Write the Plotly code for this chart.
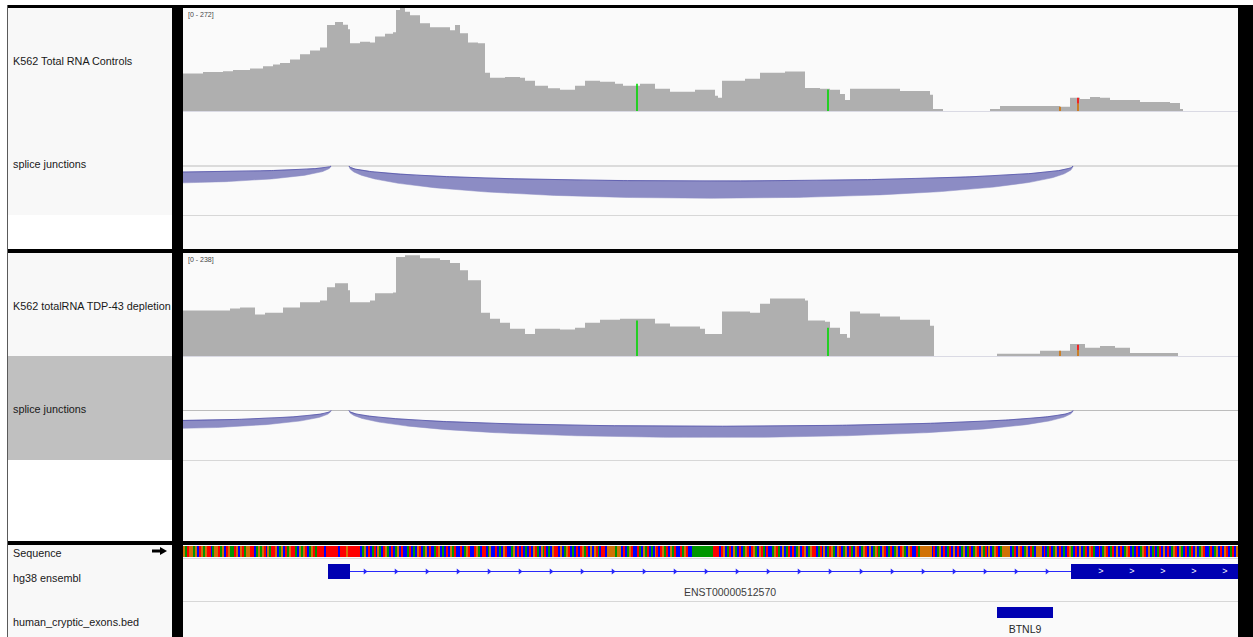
import numpy as np
import plotly.graph_objects as go

# ---------------- data ----------------
VIEW_START, VIEW_END = 0, 1055          # visible locus window (relative bp units)

# Coverage track 1 (K562 Total RNA Controls), data range [0 - 272]
cov1_pos = [0, 20, 40, 50, 67, 80, 90, 97, 107, 117, 127, 137, 144, 152, 160, 165, 167, 177, 187, 192,
            202, 210, 213, 217, 222, 227, 237, 247, 257, 267, 272, 277, 285, 295, 302, 307, 322,
            337, 342, 352, 365, 377, 392, 402, 417, 432, 440, 457, 472, 487, 512, 532, 535, 539,
            562, 577, 602, 622, 637, 647, 657, 662, 667, 697, 717, 747, 750, 760, 807, 817, 847,
            877, 887, 897, 907, 917, 927, 957, 987, 997, 1000]
cov1_val = [99, 103, 105, 108, 112, 118, 123, 127, 136, 150, 160, 168, 227, 235, 228, 216, 179, 183, 181, 197,
            204, 208, 267, 272, 262, 253, 232, 221, 221, 213, 227, 205, 181, 179, 101, 88, 90,
            88, 80, 67, 60, 56, 67, 80, 77, 72, 67, 72, 59, 51, 56, 40, 35, 80,
            85, 101, 104, 61, 59, 56, 45, 29, 59, 59, 53, 43, 5, 0, 5, 13, 13,
            11, 35, 32, 37, 35, 29, 24, 21, 5, 0]
cov1_max = 272

# Coverage track 2 (K562 totalRNA TDP-43 depletion), data range [0 - 238]
cov2_pos = [0, 47, 57, 72, 82, 100, 117, 137, 144, 152, 165, 167, 187, 192, 210, 213, 222, 237,
            257, 267, 277, 285, 295, 298, 307, 317, 327, 342, 352, 377, 392, 402, 417, 437, 457,
            472, 487, 517, 522, 539, 567, 577, 587, 607, 622, 625, 642, 647, 657, 664, 667, 677,
            697, 717, 747, 751, 814, 847, 857, 877, 887, 902, 917, 932, 947, 992, 995]
cov2_val = [105, 110, 112, 96, 100, 112, 124, 128, 159, 168, 152, 124, 128, 145, 147, 229, 233, 226,
            222, 215, 198, 175, 175, 100, 86, 77, 63, 51, 63, 61, 65, 77, 84, 86, 86,
            75, 68, 63, 51, 103, 100, 121, 133, 133, 128, 82, 79, 65, 51, 42, 103, 98,
            91, 84, 70, 0, 5, 5, 12, 12, 28, 19, 23, 19, 7, 7, 0]
cov2_max = 238

# Mismatch (SNP) columns: allele counts per position
snp_pos = [454, 645, 877, 895]
snp1_A = [72, 57, 0, 0]
snp1_G = [0, 0, 11, 20]
snp1_T = [0, 0, 0, 15]
snp2_A = [82, 65, 0, 0]
snp2_G = [0, 0, 12, 14]
snp2_T = [0, 0, 0, 12]

# Splice junctions (start, end, arc outer depth, arc inner depth)
junc_start = [-252, 166]
junc_end = [148, 890]
junc1_outer = [23.4, 43]
junc1_inner = [8.3, 20]
junc2_outer = [24.8, 36]
junc2_inner = [13.8, 21]

# Reference sequence (as displayed, compressed)
sequence = ("GATGGAGCTGAGTTCAGGTAGCTGAATGCGTAGGTTCAGAGTCGATTGCAGCTAGTTACGAG"
            "TCAGTATTTTCTTTTTTCTTTGTTTTTTCAGCTCATCGACTGACTCAGCTCCATCACGTCAG"
            "CTCCATGCACTCGATCCTCAGTCCTGACTTCAGCCTCACGTCCAGCTCTCACTCGTACGATC"
            "ACGTTCGCAGTCACTCTGATCGCGTACTTCGGGGAGGCTCAGTCCTACGATCACGTCTGATC"
            "GATCCTAGTCCAAAAAAAAAAATTTCTGCATCGACTCAGTCTGACGTACTCCAGTACGCATC"
            "TCAGCTGCAGTTCATCGCATGACGTCAGCTACGTCAGTCGCAGTACGTCATCAGCTGACGTC"
            "CTAGGGGGGCTCAGCTCATCGCTCAGCATCAGTCGATCGCAGTCAGGGGCATCGTCAGCTAC"
            "GGGCTCATCAGCTCACTGACTCGCATCGTACCTCAGTCATCGCTCAGTCACTCAGTCGCATC"
            "ATCGCTCAGTCGACTCATCGCAGTCCATCAGCTCGTCATCG")

# Gene model (hg38 ensembl)
exon_start = [145, 888]
exon_end = [167, 1100]
transcript_name = "ENST00000512570"
transcript_label_pos = 547

# Cryptic exon BED
bed_start = [814]
bed_end = [870]
bed_name = ["BTNL9"]

# Track names
track_names = ["K562 Total RNA Controls", "splice junctions",
               "K562 totalRNA TDP-43 depletion", "splice junctions",
               "Sequence", "hg38 ensembl", "human_cryptic_exons.bed"]

# ---------------- layout helpers ----------------
W, H = 1253, 637
def fx(p): return p / W
def fy(p): return 1 - p / H
def ydom(top, bottom): return [fy(bottom), fy(top)]

FONT = "Liberation Sans, Arial, sans-serif"
GRAY = "rgb(175,175,175)"
ARC_FILL = "rgb(140,140,196)"
ARC_EDGE = "rgb(72,72,165)"
SEQ_COL = {"A": "rgb(0,150,0)", "C": "rgb(0,0,255)", "G": "rgb(209,113,5)", "T": "rgb(255,0,0)"}

fig = go.Figure()

# ---------------- coverage ----------------
def add_coverage(pos, val, yax):
    fig.add_trace(go.Scatter(x=pos + [VIEW_END], y=val + [val[-1]], mode="lines", line_shape="hv",
                             line=dict(width=0, color=GRAY), fill="tozeroy", fillcolor=GRAY,
                             yaxis=yax, hoverinfo="skip", showlegend=False))

def add_snps(A, G, T, yax):
    for base, bottoms, tops in [("A", [0] * len(A), A),
                                ("G", [0] * len(G), G),
                                ("T", G, [g + t for g, t in zip(G, T)])]:
        xs, ys = [], []
        for p, b, t in zip(snp_pos, bottoms, tops):
            if t > b:
                xs += [p, p, None]
                ys += [b, t, None]
        if xs:
            fig.add_trace(go.Scatter(x=xs, y=ys, mode="lines",
                                     line=dict(width=1.6, color=SEQ_COL[base] if base != "A" else "rgb(0,215,0)"),
                                     yaxis=yax, hoverinfo="skip", showlegend=False))

add_coverage(cov1_pos, cov1_val, "y")
add_snps(snp1_A, snp1_G, snp1_T, "y")
add_coverage(cov2_pos, cov2_val, "y3")
add_snps(snp2_A, snp2_G, snp2_T, "y3")

# ---------------- junctions ----------------
def add_junctions(outer, inner, yax):
    t = np.linspace(0, 1, 240)
    for s, e, do, di in zip(junc_start, junc_end, outer, inner):
        x = s + (e - s) * (3 * t ** 2 - 2 * t ** 3)
        yo = -3 * do * t * (1 - t)
        yi = -3 * di * t * (1 - t)
        fig.add_trace(go.Scatter(x=np.concatenate([x, x[::-1]]), y=np.concatenate([yo, yi[::-1]]),
                                 mode="lines", fill="toself", fillcolor=ARC_FILL,
                                 line=dict(width=0.5, color=ARC_FILL), yaxis=yax,
                                 hoverinfo="skip", showlegend=False))
        fig.add_trace(go.Scatter(x=x, y=yi, mode="lines", line=dict(width=1, color=ARC_EDGE),
                                 opacity=0.7, yaxis=yax, hoverinfo="skip", showlegend=False))

add_junctions(junc1_outer, junc1_inner, "y2")
add_junctions(junc2_outer, junc2_inner, "y4")

# ---------------- sequence ----------------
codes = {"A": 0, "C": 1, "G": 2, "T": 3}
bw = (VIEW_END - VIEW_START) / len(sequence)
fig.add_trace(go.Heatmap(x=[VIEW_START + (i + 0.5) * bw for i in range(len(sequence))], y=[0],
                         z=[[codes[b] for b in sequence]], zmin=0, zmax=3, showscale=False,
                         colorscale=[[0, SEQ_COL["A"]], [0.25, SEQ_COL["A"]], [0.25, SEQ_COL["C"]],
                                     [0.5, SEQ_COL["C"]], [0.5, SEQ_COL["G"]], [0.75, SEQ_COL["G"]],
                                     [0.75, SEQ_COL["T"]], [1, SEQ_COL["T"]]],
                         yaxis="y5", hoverinfo="skip"))

# ---------------- gene model ----------------
EXON_BLUE = "rgb(0,0,178)"
LINE_BLUE = "rgb(40,40,250)"
fig.add_trace(go.Scatter(x=[exon_end[0], exon_start[1]], y=[0, 0], mode="lines",
                         line=dict(width=1.2, color=LINE_BLUE), yaxis="y6", hoverinfo="skip",
                         showlegend=False))
chev = np.arange(exon_end[0] + 15, exon_start[1] - 20, 31)
fig.add_trace(go.Scatter(x=chev, y=[0] * len(chev), mode="markers",
                         marker=dict(symbol="triangle-right", size=5, color=LINE_BLUE),
                         yaxis="y6", hoverinfo="skip", showlegend=False))
ex_x, ex_y = [], []
for s, e in zip(exon_start, exon_end):
    ex_x += [s, e, e, s, s, None]
    ex_y += [-7.5, -7.5, 7.5, 7.5, -7.5, None]
fig.add_trace(go.Scatter(x=ex_x, y=ex_y, mode="lines", fill="toself", fillcolor=EXON_BLUE,
                         line=dict(width=0), yaxis="y6", hoverinfo="skip", showlegend=False))
wchev = np.arange(exon_start[1] + 30, VIEW_END, 31)
fig.add_trace(go.Scatter(x=wchev, y=[0] * len(wchev), mode="text", text=[">"] * len(wchev),
                         textfont=dict(color="white", size=9, family=FONT), yaxis="y6",
                         hoverinfo="skip", showlegend=False))
fig.add_trace(go.Scatter(x=[transcript_label_pos], y=[-21.5], mode="text", text=[transcript_name],
                         textfont=dict(color="rgb(60,60,60)", size=10.5, family=FONT), yaxis="y6",
                         hoverinfo="skip", showlegend=False))

# ---------------- bed ----------------
bx, by = [], []
for s, e in zip(bed_start, bed_end):
    bx += [s, e, e, s, s, None]
    by += [-5.5, -5.5, 5.5, 5.5, -5.5, None]
fig.add_trace(go.Scatter(x=bx, y=by, mode="lines", fill="toself", fillcolor=EXON_BLUE,
                         line=dict(width=0), yaxis="y7", hoverinfo="skip", showlegend=False))
fig.add_trace(go.Scatter(x=[(s + e) / 2 for s, e in zip(bed_start, bed_end)], y=[-17.5] * len(bed_name),
                         mode="text", text=bed_name, cliponaxis=False,
                         textfont=dict(color="rgb(40,40,40)", size=10.5, family=FONT), yaxis="y7",
                         hoverinfo="skip", showlegend=False))

# ---------------- shapes (panels) ----------------
shapes = []
def rect(x0, y0, x1, y1, color, layer="below"):
    shapes.append(dict(type="rect", xref="paper", yref="paper", x0=fx(x0), x1=fx(x1),
                       y0=fy(y1), y1=fy(y0), fillcolor=color, line=dict(width=0), layer=layer))
def hline(y, x0, x1, color, w=1):
    shapes.append(dict(type="line", xref="paper", yref="paper", x0=fx(x0), x1=fx(x1),
                       y0=fy(y), y1=fy(y), line=dict(color=color, width=w), layer="below"))

rect(183, 8, 1238, 637, "rgb(250,250,250)")
rect(8, 8, 172, 215, "rgb(248,248,248)")
rect(8, 215, 172, 249, "white")
rect(8, 253, 172, 356, "rgb(248,248,248)")
rect(8, 356, 172, 460, "rgb(192,192,192)")
rect(8, 460, 172, 541, "white")
rect(8, 545, 172, 637, "rgb(248,248,248)")

hline(111.5, 183, 1238, "rgb(218,218,228)")
hline(166, 183, 1238, "rgb(188,188,188)")
hline(215.5, 183, 1238, "rgb(215,215,215)")
hline(356.5, 183, 1238, "rgb(218,218,228)")
hline(410.5, 183, 1238, "rgb(188,188,188)")
hline(460.5, 183, 1238, "rgb(215,215,215)")
hline(558.5, 183, 1238, "rgb(215,215,215)")
hline(601.5, 183, 1238, "rgb(215,215,215)")

rect(7, 5, 1253, 8, "black", "above")
rect(172, 5, 183, 637, "black", "above")
rect(1238, 5, 1253, 637, "black", "above")
rect(7, 249, 1238, 253, "black", "above")
rect(7, 541, 1238, 545, "black", "above")
rect(7, 5, 8, 637, "rgb(90,90,90)", "above")

# arrow next to "Sequence"
pts = [(152, 549.5), (160, 549.5), (160, 547), (167, 551), (160, 555), (160, 552.5), (152, 552.5)]
path = "M " + " L ".join(f"{fx(a)} {fy(b)}" for a, b in pts) + " Z"
shapes.append(dict(type="path", xref="paper", yref="paper", path=path, fillcolor="black",
                   line=dict(width=0), layer="above"))

# ---------------- annotations ----------------
ann = []
label_y = [61, 164, 306, 409, 553, 578, 622]
for name, yy in zip(track_names, label_y):
    ann.append(dict(xref="paper", yref="paper", x=fx(11), y=fy(yy), text=name, showarrow=False,
                    xanchor="left", yanchor="middle", font=dict(size=10.8, color="rgb(25,25,25)", family=FONT)))
for txt, yy in [(f"[0 - {cov1_max}]", 15), (f"[0 - {cov2_max}]", 260)]:
    ann.append(dict(xref="paper", yref="paper", x=fx(186), y=fy(yy), text=txt, showarrow=False,
                    xanchor="left", yanchor="middle", font=dict(size=7, color="rgb(70,70,70)", family=FONT)))

axis_off = dict(visible=False, showgrid=False, zeroline=False, fixedrange=True)
fig.update_layout(
    width=W, height=H, margin=dict(l=0, r=0, t=0, b=0),
    paper_bgcolor="white", plot_bgcolor="rgba(0,0,0,0)",
    showlegend=False, shapes=shapes, annotations=ann,
    xaxis=dict(domain=[fx(183), fx(1238)], range=[VIEW_START, VIEW_END], **axis_off),
    yaxis=dict(domain=ydom(8, 111), range=[0, cov1_max], anchor="x", **axis_off),
    yaxis2=dict(domain=ydom(112, 215), range=[-49, 54], anchor="x", **axis_off),
    yaxis3=dict(domain=ydom(253, 356), range=[0, cov2_max], anchor="x", **axis_off),
    yaxis4=dict(domain=ydom(357, 460), range=[-49.5, 53.5], anchor="x", **axis_off),
    yaxis5=dict(domain=ydom(546, 557), range=[-0.5, 0.5], anchor="x", **axis_off),
    yaxis6=dict(domain=ydom(558, 601), range=[-29.5, 13.5], anchor="x", **axis_off),
    yaxis7=dict(domain=ydom(602, 637), range=[-24.5, 10.5], anchor="x", **axis_off),
)

fig.write_html("out.html", config={"displayModeBar": False},
               post_script="document.body.style.margin='0px';document.body.style.overflow='hidden';")
